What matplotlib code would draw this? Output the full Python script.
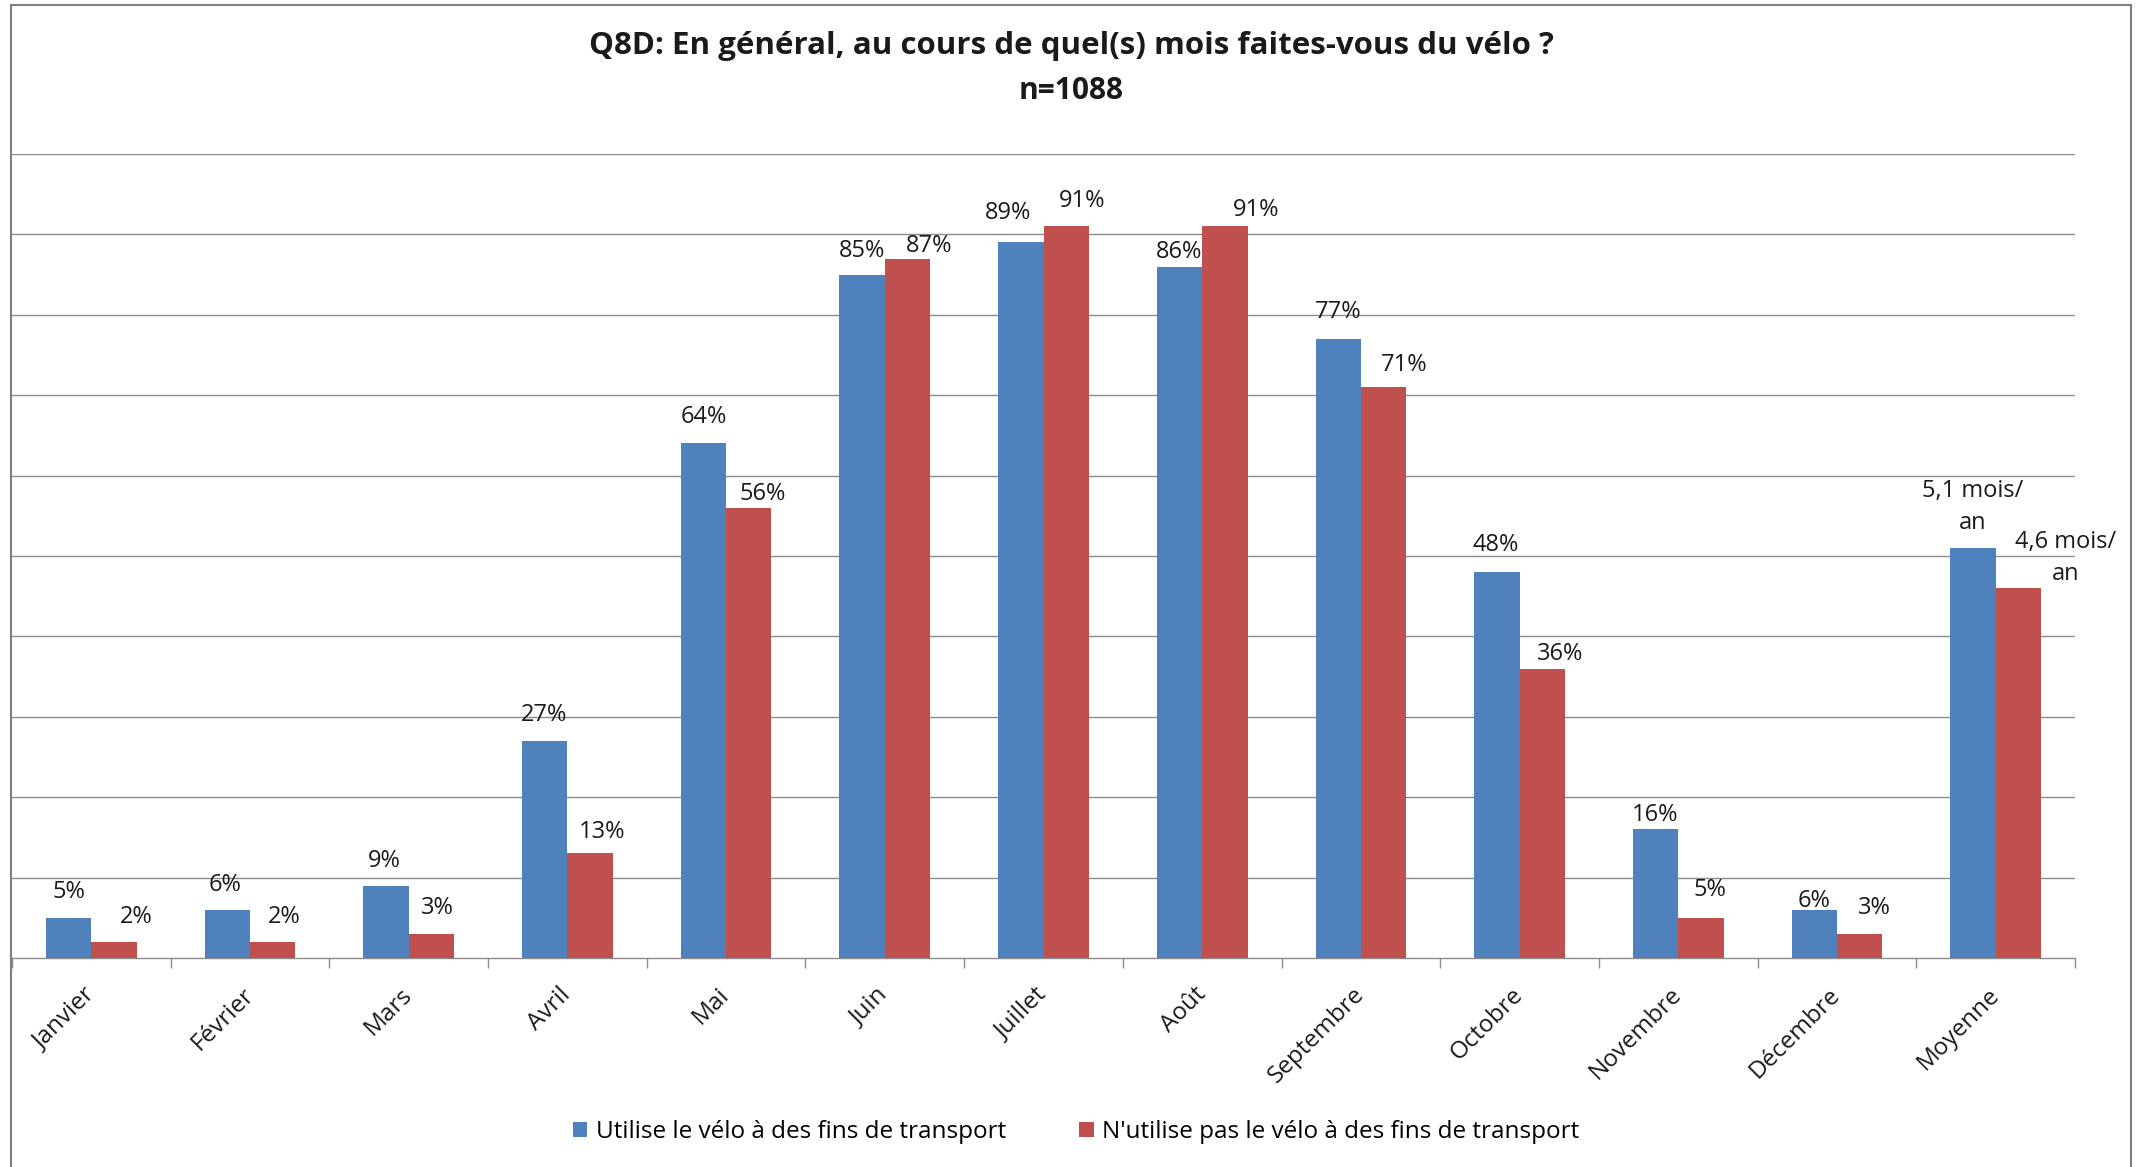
import numpy as np
import matplotlib
matplotlib.use("Agg")
import matplotlib.pyplot as plt
from matplotlib.patches import Patch
from matplotlib.lines import Line2D

# ---------------- data ----------------
categories = ["Janvier", "Février", "Mars", "Avril", "Mai", "Juin", "Juillet",
              "Août", "Septembre", "Octobre", "Novembre", "Décembre", "Moyenne"]
months_transport = [5, 6, 9, 27, 64, 85, 89, 86, 77, 48, 16, 6]       # %
months_no_transport = [2, 2, 3, 13, 56, 87, 91, 91, 71, 36, 5, 3]      # %
avg_transport = 5.1        # mois / an
avg_no_transport = 4.6     # mois / an
series_names = ["Utilise le vélo à des fins de transport",
                "N'utilise pas le vélo à des fins de transport"]
title = "Q8D: En général, au cours de quel(s) mois faites-vous du vélo ?"
subtitle = "n=1088"

# ---------------- style / layout ----------------
BLUE = "#4F81BD"
RED = "#C0504D"
GRID = "#8C8C8C"
FONT = "Open Sans"
plt.rcParams["font.family"] = [FONT, "DejaVu Sans"]

# label offsets (pixels) relative to bar top centre: (dx, dy)
off_blue = [(0, 26), (-2, 25), (-2, 25), (-1, 26), (0, 26), (0, 24), (-13, 29),
            (0, 15), (0, 27), (-1, 27), (-1, 14), (0, 9), (0, 41)]
off_red = [(22, 25), (12, 25), (6, 26), (12, 21), (14, 14), (22, 13), (16, 25),
           (31, 16), (21, 22), (18, 15), (9, 28), (15, 26), (47, 30)]

W, H = 2142, 1167
fig = plt.figure(figsize=(W / 100, H / 100), dpi=100)
fig.patch.set_facecolor("white")

ax_l, ax_r, ax_t, ax_b = 12, 2075, 154, 958
ax = fig.add_axes([ax_l / W, 1 - ax_b / H, (ax_r - ax_l) / W, (ax_b - ax_t) / H])

# values to plot (average scaled x10 to share the % axis, as in the source)
blue_vals = months_transport + [avg_transport * 10]
red_vals = months_no_transport + [avg_no_transport * 10]
blue_lbls = [f"{v}%" for v in months_transport] + \
    [f"{avg_transport:.1f}".replace(".", ",") + " mois/\nan"]
red_lbls = [f"{v}%" for v in months_no_transport] + \
    [f"{avg_no_transport:.1f}".replace(".", ",") + " mois/\nan"]

x = np.arange(len(categories))
w = 1 / 3.5
ax.bar(x - w / 2, blue_vals, w, color=BLUE, zorder=3)
ax.bar(x + w / 2, red_vals, w, color=RED, zorder=3)

ax.set_xlim(-0.5, len(categories) - 0.5)
ax.set_ylim(0, 100)

# grid
ax.set_yticks(np.arange(10, 101, 10))
ax.yaxis.grid(True, color=GRID, linewidth=1.0, zorder=0)
ax.tick_params(axis="y", left=False, labelleft=False)
for s in ["left", "right", "top"]:
    ax.spines[s].set_visible(False)
ax.spines["bottom"].set_color(GRID)
ax.spines["bottom"].set_linewidth(1.0)

# ticks at category boundaries, labels at centres
ax.set_xticks(np.arange(-0.5, len(categories), 1.0))
ax.set_xticklabels([])
ax.tick_params(axis="x", which="major", direction="out", length=7.2,
               width=1.0, color=GRID)
ax.set_xticks(x, minor=True)
ax.set_xticklabels(categories, minor=True, rotation=45, ha="right",
                   va="center", rotation_mode="anchor", fontsize=17.5,
                   color="#1a1a1a")
ax.tick_params(axis="x", which="minor", length=0, pad=24)

# data labels
for xi, v, lbl, (dx, dy) in zip(x - w / 2, blue_vals, blue_lbls, off_blue):
    ax.annotate(lbl, xy=(xi, v), xytext=(dx, dy), textcoords="offset pixels",
                ha="center", va="center", fontsize=17, color="#1a1a1a",
                linespacing=1.45, zorder=5)
for xi, v, lbl, (dx, dy) in zip(x + w / 2, red_vals, red_lbls, off_red):
    ax.annotate(lbl, xy=(xi, v), xytext=(dx, dy), textcoords="offset pixels",
                ha="center", va="center", fontsize=17, color="#1a1a1a",
                linespacing=1.45, zorder=5)

# titles
fig.text(0.5, 1 - 46 / H, title, ha="center", va="center", fontsize=22.5,
         fontweight="bold", color="#1a1a1a")
fig.text(0.5, 1 - 91 / H, subtitle, ha="center", va="center", fontsize=21.5,
         fontweight="bold", color="#1a1a1a")

# legend
handles = [Patch(facecolor=BLUE, edgecolor="none"),
           Patch(facecolor=RED, edgecolor="none")]
fig.legend(handles, series_names, loc="center",
           bbox_to_anchor=(1076 / W, 1 - 1132 / H), ncol=2, frameon=False,
           fontsize=17.5, handlelength=0.6, handleheight=0.6,
           handletextpad=0.35, columnspacing=3.0)

# outer chart frame (left, top, right)
fx0, fx1, fy0 = 11 / W, 2131 / W, 1 - 5 / H
frame_kw = dict(color="#7F7F7F", linewidth=1.5, transform=fig.transFigure)
fig.add_artist(Line2D([fx0, fx0], [0, fy0], **frame_kw))
fig.add_artist(Line2D([fx0, fx1], [fy0, fy0], **frame_kw))
fig.add_artist(Line2D([fx1, fx1], [0, fy0], **frame_kw))

fig.savefig("out.png", dpi=100)
